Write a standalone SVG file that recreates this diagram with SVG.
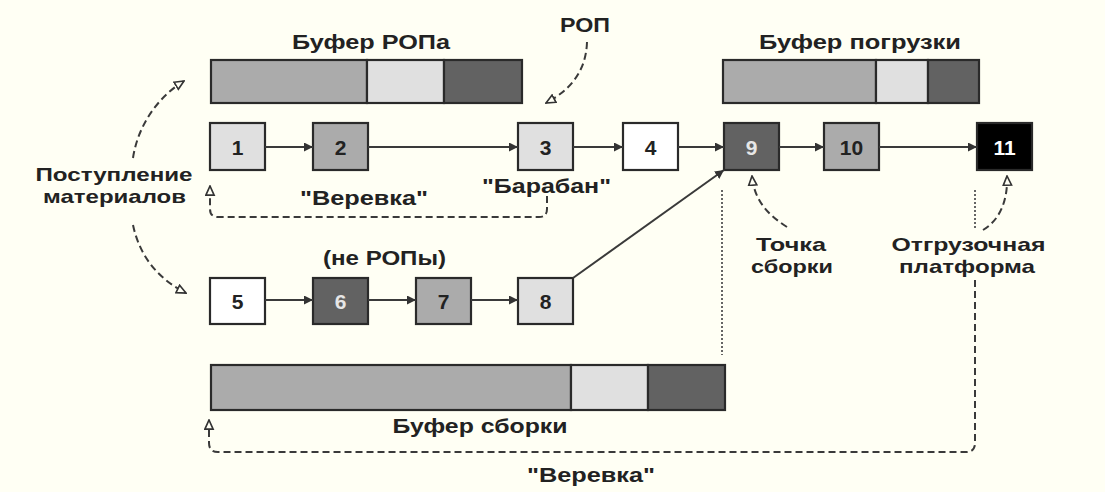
<svg xmlns="http://www.w3.org/2000/svg" width="1105" height="492" viewBox="0 0 1105 492">
<defs>
<style>
text{font-family:"Liberation Sans",Arial,sans-serif;font-weight:bold;fill:#222;}
.lbl{font-size:20.5px;}
.lbl2{font-size:18.5px;}
.num{font-size:21px;text-anchor:middle;}
.box{stroke:#2a2a2a;stroke-width:2.2;}
.flow{stroke:#3a3a3a;stroke-width:2;fill:none;marker-end:url(#solid);}
.dash{stroke:#3a3a3a;stroke-width:2;fill:none;stroke-dasharray:7 4;marker-end:url(#open);}
.dot{stroke:#555;stroke-width:1.8;fill:none;stroke-dasharray:2 2;}
.c1{fill:#ababab;}.c2{fill:#e0e0e0;}.c3{fill:#626262;}
</style>
<marker id="solid" viewBox="0 0 10 10" refX="10" refY="5" markerWidth="9" markerHeight="9" markerUnits="userSpaceOnUse" orient="auto">
<path d="M0,0 L10,5 L0,10 Z" fill="#333"/>
</marker>
<marker id="open" viewBox="0 0 12 12" refX="11" refY="6" markerWidth="11" markerHeight="11" markerUnits="userSpaceOnUse" orient="auto">
<path d="M1,1.5 L11,6 L1,10.5 Z" fill="#fffff4" stroke="#333" stroke-width="1.8"/>
</marker>
</defs>
<rect width="1105" height="492" fill="#fffff4"/>

<g id="buffer-rop">
<rect class="box c1" x="211" y="60" width="156" height="43"/>
<rect class="box c2" x="367" y="60" width="77" height="43"/>
<rect class="box c3" x="444" y="60" width="78" height="43"/>
<text class="lbl" x="371" y="49" text-anchor="middle" textLength="158" lengthAdjust="spacingAndGlyphs">Буфер РОПа</text>
</g>
<g id="buffer-load">
<rect class="box c1" x="723" y="60" width="153" height="43"/>
<rect class="box c2" x="876" y="60" width="52" height="43"/>
<rect class="box c3" x="928" y="60" width="51" height="43"/>
<text class="lbl" x="860" y="49" text-anchor="middle" textLength="202" lengthAdjust="spacingAndGlyphs">Буфер погрузки</text>
</g>
<g id="buffer-asm">
<rect class="box c1" x="211" y="365" width="360" height="45"/>
<rect class="box c2" x="571" y="365" width="77" height="45"/>
<rect class="box c3" x="648" y="365" width="77" height="45"/>
<text class="lbl" x="480" y="433" text-anchor="middle" textLength="175" lengthAdjust="spacingAndGlyphs">Буфер сборки</text>
</g>

<g id="n1"><rect class="box c2" x="210" y="123" width="55" height="47"/><text class="num" x="237.5" y="154.5">1</text></g>
<g id="n2"><rect class="box c1" x="313" y="123" width="55" height="47"/><text class="num" x="340.5" y="154.5">2</text></g>
<g id="n3"><rect class="box c2" x="518" y="123" width="55" height="47"/><text class="num" x="545.5" y="154.5">3</text></g>
<g id="n4"><rect class="box" fill="#ffffff" x="623" y="123" width="55" height="47"/><text class="num" x="650.5" y="154.5">4</text></g>
<g id="n9"><rect class="box c3" x="724" y="123" width="55" height="47"/><text class="num" x="751.5" y="154.5" style="fill:#e6e6e6">9</text></g>
<g id="n10"><rect class="box c1" x="824" y="123" width="55" height="47"/><text class="num" x="851.5" y="154.5">10</text></g>
<g id="n11"><rect class="box" fill="#000" x="977" y="123" width="55" height="47"/><text class="num" x="1004.5" y="154.5" style="fill:#fff">11</text></g>
<g id="n5"><rect class="box" fill="#ffffff" x="210" y="278" width="55" height="46"/><text class="num" x="237.5" y="308.5">5</text></g>
<g id="n6"><rect class="box c3" x="313" y="278" width="55" height="46"/><text class="num" x="340.5" y="308.5" style="fill:#e6e6e6">6</text></g>
<g id="n7"><rect class="box c1" x="416" y="278" width="55" height="46"/><text class="num" x="443.5" y="308.5">7</text></g>
<g id="n8"><rect class="box c2" x="518" y="278" width="55" height="46"/><text class="num" x="545.5" y="308.5">8</text></g>

<g id="labels">
<text class="lbl" x="585" y="32" text-anchor="middle" textLength="50" lengthAdjust="spacingAndGlyphs">РОП</text>
<text class="lbl2" x="114" y="181" text-anchor="middle" textLength="157" lengthAdjust="spacingAndGlyphs">Поступление</text>
<text class="lbl2" x="114.5" y="203" text-anchor="middle" textLength="143" lengthAdjust="spacingAndGlyphs">материалов</text>
<text class="lbl" x="364" y="205" text-anchor="middle" textLength="128" lengthAdjust="spacingAndGlyphs">"Веревка"</text>
<text class="lbl" x="546.5" y="193" text-anchor="middle" textLength="129" lengthAdjust="spacingAndGlyphs">"Барабан"</text>
<text class="lbl" x="384.5" y="265" text-anchor="middle" textLength="123" lengthAdjust="spacingAndGlyphs">(не РОПы)</text>
<text class="lbl2" x="791" y="251" text-anchor="middle" textLength="70" lengthAdjust="spacingAndGlyphs">Точка</text>
<text class="lbl2" x="792" y="273" text-anchor="middle" textLength="82" lengthAdjust="spacingAndGlyphs">сборки</text>
<text class="lbl2" x="968.5" y="251" text-anchor="middle" textLength="154" lengthAdjust="spacingAndGlyphs">Отгрузочная</text>
<text class="lbl2" x="967" y="273" text-anchor="middle" textLength="136" lengthAdjust="spacingAndGlyphs">платформа</text>
<text class="lbl" x="591" y="482" text-anchor="middle" textLength="128" lengthAdjust="spacingAndGlyphs">"Веревка"</text>
</g>

<g id="connectors">
<line class="flow" x1="265" y1="147" x2="313" y2="147"/>
<line class="flow" x1="368" y1="147" x2="518" y2="147"/>
<line class="flow" x1="573" y1="147" x2="623" y2="147"/>
<line class="flow" x1="678" y1="147" x2="724" y2="147"/>
<line class="flow" x1="779" y1="147" x2="824" y2="147"/>
<line class="flow" x1="879" y1="147" x2="977" y2="147"/>
<line class="flow" x1="265" y1="300" x2="313" y2="300"/>
<line class="flow" x1="368" y1="300" x2="416" y2="300"/>
<line class="flow" x1="471" y1="300" x2="518" y2="300"/>
<line class="flow" x1="573" y1="278" x2="724" y2="170"/>
<path class="dash" d="M133,158 C138,125 158,97 184,81"/>
<path class="dash" d="M133,225 C140,258 160,280 186,293"/>
<path class="dash" d="M587,42 C586,72 570,90 546,103"/>
<path class="dash" d="M547,196 L547,209 Q547,217 539,217 L218,217 Q210,217 210,209 L210,186"/>
<path class="dash" d="M787,227 C768,215 754,200 752,176"/>
<path class="dash" d="M983,230 C1000,220 1008,200 1007,176"/>
<path class="dash" d="M975,280 L975,443 Q975,452 966,452 L218,452 Q209,452 209,443 L209,420"/>
<line class="dot" x1="722" y1="190" x2="722" y2="355"/>
<line class="dot" x1="975" y1="190" x2="975" y2="230"/>
</g>
</svg>
